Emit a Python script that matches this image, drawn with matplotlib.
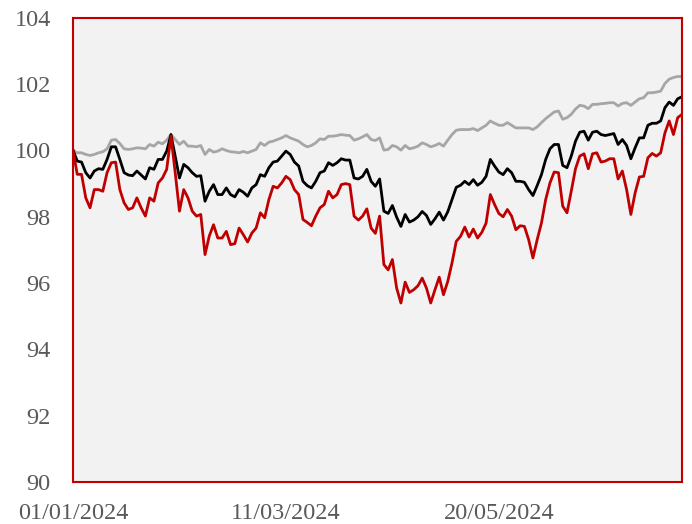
import matplotlib
matplotlib.use("Agg")
import matplotlib.pyplot as plt
import numpy as np
import pandas as pd

# business days shown on the chart
dates = pd.bdate_range("2024-01-01", "2024-07-18")
tick_dates = ["2024-01-01", "2024-03-11", "2024-05-20"]

grey_series = [
    100.00, 99.93, 99.93, 99.88, 99.85, 99.88, 99.93, 99.96, 100.05, 100.31,
    100.33, 100.21, 100.05, 100.03, 100.05, 100.08, 100.07, 100.05, 100.18, 100.13,
    100.25, 100.20, 100.31, 100.48, 100.33, 100.18, 100.28, 100.13, 100.13, 100.11,
    100.15, 99.88, 100.03, 99.95, 99.98, 100.05, 100.00, 99.96, 99.95, 99.93,
    99.97, 99.93, 99.98, 100.03, 100.23, 100.15, 100.25, 100.28, 100.33, 100.38,
    100.45, 100.38, 100.33, 100.28, 100.18, 100.11, 100.15, 100.23, 100.35, 100.33,
    100.43, 100.43, 100.45, 100.48, 100.46, 100.45, 100.31, 100.35, 100.41, 100.48,
    100.33, 100.30, 100.38, 100.01, 100.03, 100.15, 100.11, 100.01, 100.15, 100.05,
    100.08, 100.13, 100.23, 100.18, 100.11, 100.15, 100.21, 100.13, 100.31, 100.48,
    100.61, 100.63, 100.63, 100.63, 100.66, 100.60, 100.68, 100.76, 100.89, 100.82,
    100.76, 100.76, 100.84, 100.76, 100.68, 100.68, 100.68, 100.68, 100.63, 100.71,
    100.84, 100.96, 101.06, 101.16, 101.19, 100.94, 100.99, 101.09, 101.25, 101.36,
    101.34, 101.26, 101.39, 101.39, 101.41, 101.42, 101.44, 101.44, 101.34, 101.42,
    101.44, 101.36, 101.46, 101.56, 101.59, 101.74, 101.74, 101.76, 101.79, 102.02,
    102.15, 102.20, 102.23, 102.23,
]

black_series = [
    100.01, 99.68, 99.65, 99.33, 99.17, 99.38, 99.45, 99.43, 99.73, 100.11,
    100.11, 99.73, 99.33, 99.26, 99.24, 99.38, 99.26, 99.14, 99.48, 99.43,
    99.73, 99.73, 99.98, 100.48, 99.83, 99.17, 99.58, 99.48, 99.33, 99.22,
    99.24, 98.47, 98.77, 98.97, 98.67, 98.67, 98.87, 98.67, 98.60, 98.82,
    98.74, 98.62, 98.87, 98.97, 99.27, 99.22, 99.48, 99.65, 99.68, 99.83,
    99.98, 99.88, 99.65, 99.53, 99.07, 98.94, 98.87, 99.07, 99.33, 99.38,
    99.63, 99.55, 99.63, 99.75, 99.71, 99.71, 99.17, 99.14, 99.22, 99.43,
    99.07, 98.92, 99.14, 98.17, 98.10, 98.34, 97.99, 97.71, 98.07, 97.84,
    97.90, 98.00, 98.16, 98.04, 97.77, 97.94, 98.14, 97.90, 98.15, 98.52,
    98.89, 98.95, 99.07, 98.97, 99.12, 98.95, 99.04, 99.22, 99.73, 99.53,
    99.35, 99.27, 99.45, 99.33, 99.07, 99.07, 99.04, 98.82, 98.64, 98.94,
    99.27, 99.73, 100.05, 100.18, 100.18, 99.55, 99.48, 99.83, 100.28, 100.55,
    100.58, 100.31, 100.55, 100.58, 100.48, 100.45, 100.48, 100.51, 100.18, 100.33,
    100.15, 99.75, 100.08, 100.38, 100.38, 100.76, 100.82, 100.82, 100.89, 101.29,
    101.46, 101.36, 101.56, 101.62,
]

red_series = [
    100.00, 99.28, 99.28, 98.57, 98.27, 98.82, 98.82, 98.77, 99.33, 99.63,
    99.65, 98.82, 98.42, 98.22, 98.27, 98.57, 98.27, 98.02, 98.57, 98.47,
    99.02, 99.17, 99.43, 100.43, 99.33, 98.17, 98.82, 98.57, 98.17, 98.02,
    98.07, 96.86, 97.42, 97.76, 97.36, 97.36, 97.56, 97.16, 97.19, 97.66,
    97.46, 97.24, 97.51, 97.66, 98.12, 97.97, 98.52, 98.92, 98.87, 99.02,
    99.22, 99.12, 98.82, 98.67, 97.92, 97.83, 97.73, 98.02, 98.27, 98.37,
    98.77, 98.57, 98.67, 98.97, 99.00, 98.97, 98.02, 97.90, 98.02, 98.24,
    97.66, 97.50, 98.02, 96.56, 96.40, 96.71, 95.85, 95.40, 96.03, 95.72,
    95.80, 95.92, 96.15, 95.85, 95.40, 95.80, 96.18, 95.65, 96.05, 96.61,
    97.26, 97.41, 97.69, 97.39, 97.63, 97.36, 97.53, 97.81, 98.67, 98.37,
    98.10, 98.00, 98.22, 98.02, 97.61, 97.73, 97.71, 97.31, 96.76, 97.31,
    97.81, 98.52, 99.02, 99.35, 99.33, 98.32, 98.12, 98.77, 99.45, 99.83,
    99.90, 99.45, 99.90, 99.93, 99.65, 99.68, 99.75, 99.75, 99.14, 99.38,
    98.82, 98.07, 98.72, 99.20, 99.22, 99.78, 99.91, 99.83, 99.93, 100.53,
    100.89, 100.48, 100.99, 101.09,
]

y_ticks = [90, 92, 94, 96, 98, 100, 102, 104]

RED = "#c00000"
GREY = "#a6a6a6"
TEXT = "#595959"

plt.rcParams["font.family"] = ["Liberation Serif", "DejaVu Serif"]

fig = plt.figure(figsize=(6.92, 5.24), dpi=100)
ax = fig.add_axes([0.1055, 0.080, 0.88, 0.886])
ax.set_facecolor("#f2f2f2")

x = np.arange(len(dates))
ax.plot(x, grey_series, color=GREY, linewidth=2.0)
ax.plot(x, black_series, color="black", linewidth=2.0)
ax.plot(x, red_series, color=RED, linewidth=2.0)

ax.set_xlim(0, len(dates) - 1)
ax.set_ylim(90, 104)
ax.set_yticks(y_ticks)
ax.set_yticklabels([str(v) for v in y_ticks])
tick_pos = [dates.get_loc(pd.Timestamp(d)) for d in tick_dates]
ax.set_xticks(tick_pos)
ax.set_xticklabels([pd.Timestamp(d).strftime("%d/%m/%Y") for d in tick_dates])

ax.tick_params(axis="both", length=0, labelsize=17.5, labelcolor=TEXT)
ax.tick_params(axis="y", pad=16)
ax.tick_params(axis="x", pad=15)

for spine in ax.spines.values():
    spine.set_color(RED)
    spine.set_linewidth(1.5)

fig.savefig("out.png", dpi=100)
